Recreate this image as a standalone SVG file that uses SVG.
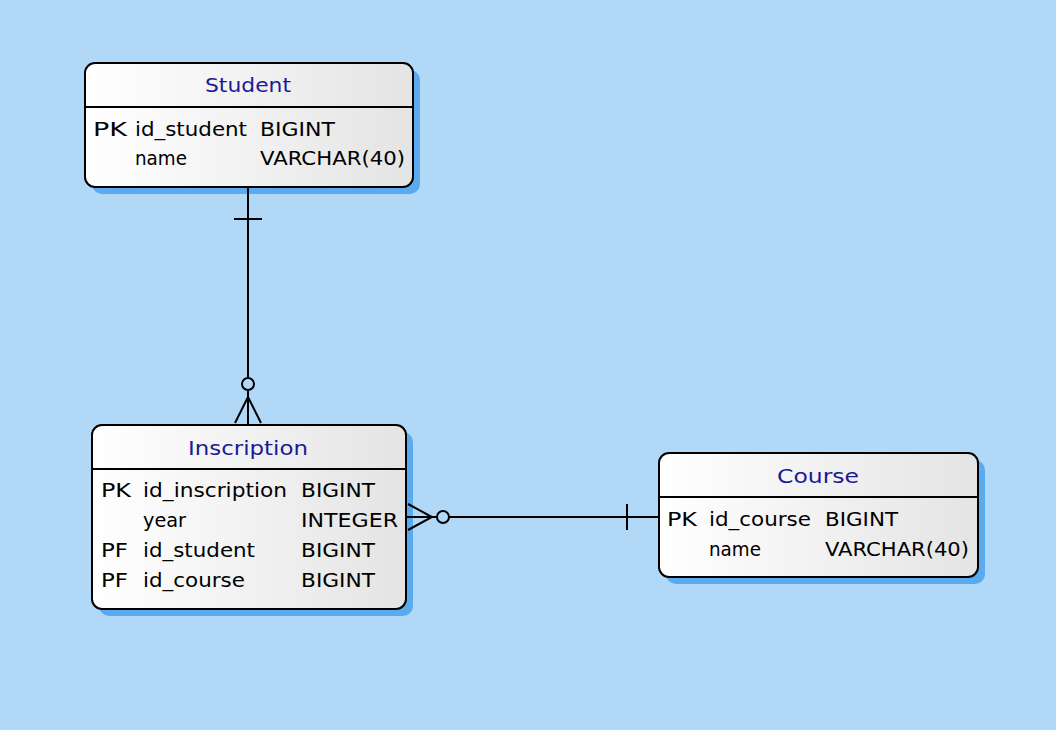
<svg xmlns="http://www.w3.org/2000/svg" width="1056" height="730" viewBox="0 0 1056 730">
<defs>
<linearGradient id="g" x1="0" y1="0" x2="1" y2="0">
<stop offset="0" stop-color="#ffffff"/>
<stop offset="1" stop-color="#e4e4e4"/>
</linearGradient>
<style>
.sh{fill:#5aaaf0}
.box{fill:url(#g);stroke:#000;stroke-width:2}
.sep{stroke:#000;stroke-width:2}
.t{font-family:"DejaVu Sans",sans-serif;font-size:20px;fill:#1a1a96;text-anchor:middle}
.r{font-family:"DejaVu Sans",sans-serif;font-size:19px;fill:#000}
.ln{stroke:#000;stroke-width:2;fill:none}
</style>
</defs>
<rect width="1056" height="730" fill="#b2d8f8"/>
<g id="student">
<rect class="sh" x="92" y="70" width="328" height="124" rx="10"/>
<rect class="box" x="85" y="63" width="328" height="124" rx="10"/>
<line class="sep" x1="85" y1="107" x2="413" y2="107"/>
<text class="t" x="248" y="92" textLength="86" lengthAdjust="spacingAndGlyphs">Student</text>
<text class="r" x="93" y="136" textLength="34" lengthAdjust="spacingAndGlyphs">PK</text>
<text class="r" x="135" y="136" textLength="112" lengthAdjust="spacingAndGlyphs">id_student</text>
<text class="r" x="260" y="136" textLength="75" lengthAdjust="spacingAndGlyphs">BIGINT</text>
<text class="r" x="135" y="165" textLength="52" lengthAdjust="spacingAndGlyphs">name</text>
<text class="r" x="260" y="165" textLength="145" lengthAdjust="spacingAndGlyphs">VARCHAR(40)</text>
</g>
<g id="inscription">
<rect class="sh" x="99" y="432" width="314" height="184" rx="10"/>
<rect class="box" x="92" y="425" width="314" height="184" rx="10"/>
<line class="sep" x1="92" y1="469" x2="406" y2="469"/>
<text class="t" x="248" y="455" textLength="120" lengthAdjust="spacingAndGlyphs">Inscription</text>
<text class="r" x="101" y="497" textLength="30" lengthAdjust="spacingAndGlyphs">PK</text>
<text class="r" x="143" y="497" textLength="144" lengthAdjust="spacingAndGlyphs">id_inscription</text>
<text class="r" x="301" y="497" textLength="74" lengthAdjust="spacingAndGlyphs">BIGINT</text>
<text class="r" x="143" y="527" textLength="43" lengthAdjust="spacingAndGlyphs">year</text>
<text class="r" x="301" y="527" textLength="97" lengthAdjust="spacingAndGlyphs">INTEGER</text>
<text class="r" x="101" y="557" textLength="27" lengthAdjust="spacingAndGlyphs">PF</text>
<text class="r" x="143" y="557" textLength="112" lengthAdjust="spacingAndGlyphs">id_student</text>
<text class="r" x="301" y="557" textLength="74" lengthAdjust="spacingAndGlyphs">BIGINT</text>
<text class="r" x="101" y="587" textLength="27" lengthAdjust="spacingAndGlyphs">PF</text>
<text class="r" x="143" y="587" textLength="102" lengthAdjust="spacingAndGlyphs">id_course</text>
<text class="r" x="301" y="587" textLength="74" lengthAdjust="spacingAndGlyphs">BIGINT</text>
</g>
<g id="course">
<rect class="sh" x="666" y="460" width="319" height="124" rx="10"/>
<rect class="box" x="659" y="453" width="319" height="124" rx="10"/>
<line class="sep" x1="659" y1="497" x2="978" y2="497"/>
<text class="t" x="818" y="483" textLength="82" lengthAdjust="spacingAndGlyphs">Course</text>
<text class="r" x="667" y="526" textLength="30" lengthAdjust="spacingAndGlyphs">PK</text>
<text class="r" x="709" y="526" textLength="102" lengthAdjust="spacingAndGlyphs">id_course</text>
<text class="r" x="825" y="526" textLength="73" lengthAdjust="spacingAndGlyphs">BIGINT</text>
<text class="r" x="709" y="556" textLength="52" lengthAdjust="spacingAndGlyphs">name</text>
<text class="r" x="825" y="556" textLength="144" lengthAdjust="spacingAndGlyphs">VARCHAR(40)</text>
</g>
<g id="connectors">
<line class="ln" x1="248" y1="188" x2="248" y2="378"/>
<line class="ln" x1="234" y1="219" x2="262" y2="219"/>
<circle class="ln" cx="248" cy="384" r="6"/>
<line class="ln" x1="248" y1="390" x2="248" y2="425"/>
<path class="ln" d="M235 423 L248 397 L261 423"/>
<line class="ln" x1="406" y1="517" x2="437" y2="517"/>
<circle class="ln" cx="443" cy="517" r="6"/>
<line class="ln" x1="449" y1="517" x2="659" y2="517"/>
<path class="ln" d="M408 504 L432 517 L408 530"/>
<line class="ln" x1="627" y1="504" x2="627" y2="530"/>
</g>
</svg>
